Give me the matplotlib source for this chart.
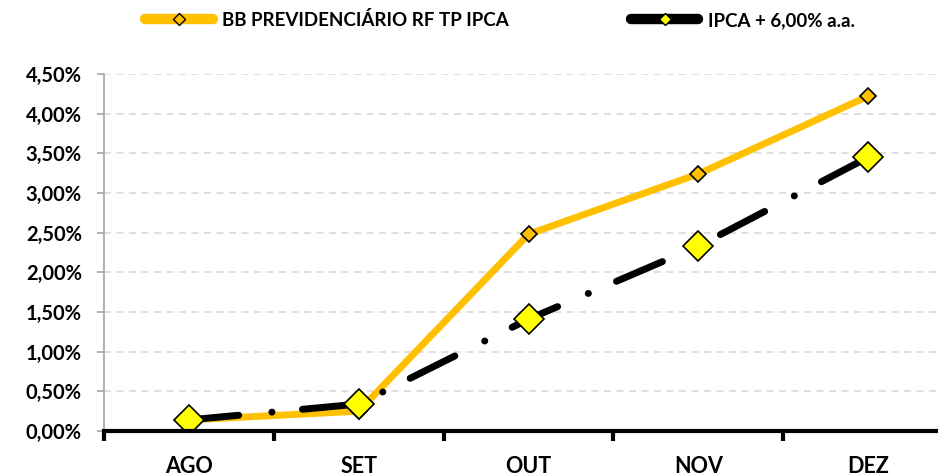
import matplotlib.pyplot as plt
from matplotlib.lines import Line2D
from matplotlib.ticker import FuncFormatter, FixedLocator

meses = ['AGO', 'SET', 'OUT', 'NOV', 'DEZ']
bb_prev = [0.14, 0.25, 2.48, 3.24, 4.22]     # BB PREVIDENCIÁRIO RF TP IPCA (%)
ipca_meta = [0.14, 0.34, 1.41, 2.33, 3.45]   # IPCA + 6,00% a.a. (%)
y_ticks = [0.0, 0.5, 1.0, 1.5, 2.0, 2.5, 3.0, 3.5, 4.0, 4.5]

plt.rcParams['font.family'] = ['Lato', 'DejaVu Sans']
plt.rcParams['font.weight'] = 'bold'
plt.rcParams['lines.scale_dashes'] = False

laranja = '#FFC000'
amarelo = '#FFFF00'

fig = plt.figure(figsize=(9.38, 4.76), dpi=100)
ax = fig.add_axes([104 / 938, 45 / 476, 849 / 938, 357 / 476])

x = list(range(len(meses)))

ax.plot(x, bb_prev, color=laranja, lw=5, solid_joinstyle='round',
        marker='D', ms=8, mfc=laranja, mec='black', mew=1.2, zorder=3)
ax.plot(x, ipca_meta, color='black', lw=5, dash_capstyle='round',
        ls=(0, (36, 24, 0.1, 22)),
        marker='D', ms=15, mfc=amarelo, mec='black', mew=1.2, zorder=4)

ax.set_xlim(-0.5, 4.5)
ax.set_ylim(0, 4.5)

# grade
ax.set_yticks(y_ticks)
ax.yaxis.set_major_formatter(FuncFormatter(lambda v, p: f'{v:.2f}%'.replace('.', ',')))
ax.grid(axis='y', color='#D9D9D9', ls=(0, (5, 4)), lw=1.2)
ax.set_axisbelow(True)

# eixos
for s in ['top', 'right']:
    ax.spines[s].set_visible(False)
ax.spines['left'].set_color('#A6A6A6')
ax.spines['left'].set_linewidth(1.2)
ax.spines['bottom'].set_color('black')
ax.spines['bottom'].set_linewidth(3)
ax.spines['bottom'].set_zorder(5)

ax.tick_params(axis='y', colors='#A6A6A6', length=5, width=1.2, pad=11,
               labelcolor='black', labelsize=14.5)
ax.xaxis.set_major_locator(FixedLocator([-0.5, 0.5, 1.5, 2.5, 3.5, 4.5]))
ax.xaxis.set_minor_locator(FixedLocator(x))
ax.set_xticklabels([''] * 6)
ax.set_xticklabels(meses, minor=True)
ax.tick_params(axis='x', which='major', length=7, width=3, color='black')
ax.tick_params(axis='x', which='minor', length=0, pad=18, labelsize=15.5)
for lbl in ax.get_yticklabels() + ax.get_xticklabels(minor=True):
    lbl.set_fontweight('bold')

# legenda
h1 = Line2D([], [], color=laranja, lw=7.5, solid_capstyle='round',
            marker='D', ms=6, mfc=laranja, mec='black', mew=1)
h2 = Line2D([], [], color='black', lw=7.5, solid_capstyle='round',
            marker='D', ms=6, mfc=amarelo, mec='black', mew=1)
fig.legend([h1, h2], ['BB PREVIDENCIÁRIO RF TP IPCA', 'IPCA + 6,00% a.a.'],
           loc='center', bbox_to_anchor=(500 / 938, 1 - 20 / 476), ncol=2,
           frameon=False, handlelength=3.6, handletextpad=0.5,
           columnspacing=6.5, prop={'weight': 'bold', 'size': 13.5})

fig.savefig('out.png', dpi=100)
